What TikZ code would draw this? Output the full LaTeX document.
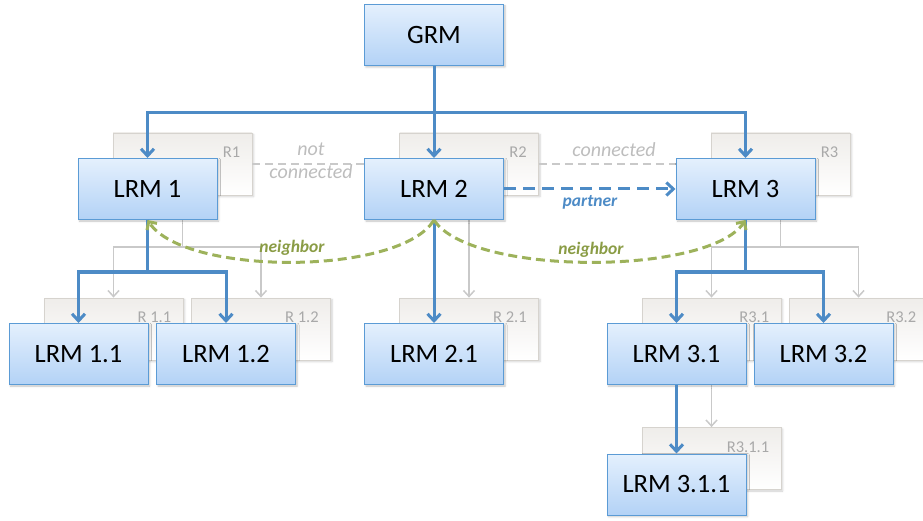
\documentclass[tikz,border=0pt]{standalone}
\usepackage{fontspec}
\setmainfont{Carlito}
\usetikzlibrary{arrows.meta,shadows.blur,calc}

\definecolor{boxtop}{HTML}{E4F0FD}
\definecolor{boxbot}{HTML}{B3D2F6}
\definecolor{boxedge}{HTML}{5B9BD5}
\definecolor{lineblue}{HTML}{4D8BC6}
\definecolor{rtop}{HTML}{EFEDEA}
\definecolor{redge}{HTML}{D6D3CE}
\definecolor{rtext}{HTML}{A9A9A9}
\definecolor{gline}{HTML}{C9C9C9}
\definecolor{gtext}{HTML}{BDBDBD}
\definecolor{nbgreen}{HTML}{9DB25B}
\definecolor{nbtext}{HTML}{8A9C45}

\tikzset{
  lrm/.style={draw=boxedge, line width=1pt, top color=boxtop, bottom color=boxbot,
    minimum width=139pt, minimum height=61pt, inner sep=0pt,
    font=\fontsize{26.5}{30}\selectfont,
    blur shadow={shadow xshift=1.5pt, shadow yshift=-1.5pt, shadow opacity=25, shadow blur radius=2pt}},
  rbox/.style={draw=redge, line width=0.8pt, top color=rtop, bottom color=white,
    minimum width=139pt, minimum height=62pt, inner sep=0pt,
    blur shadow={shadow xshift=1.5pt, shadow yshift=-1.5pt, shadow opacity=20, shadow blur radius=2pt}},
  rlabel/.style={text=rtext, font=\fontsize{16.5}{18}\selectfont, anchor=north east, inner sep=0pt},
  bline/.style={draw=lineblue, line width=3pt},
  barrow/.style={-{Straight Barb[length=7pt,width=13pt]}},
  gconn/.style={draw=gline, line width=1.5pt, -{Straight Barb[length=6pt,width=11pt]}},
  gdash/.style={draw=gline, line width=1.6pt, dash pattern=on 8pt off 5pt},
  nbline/.style={draw=nbgreen, line width=3pt, dash pattern=on 9pt off 5pt,
    -{Straight Barb[length=6pt,width=12pt]}},
  gnote/.style={text=gtext, font=\fontsize{20}{22}\selectfont\itshape, inner sep=0pt},
  nbnote/.style={text=nbtext, font=\fontsize{17.5}{20}\selectfont\bfseries\itshape, inner sep=0pt},
}

\begin{document}
\begin{tikzpicture}[x=1pt,y=-1pt]
\useasboundingbox (0,0) rectangle (923,521);

% ---------- resource boxes (background layer) ----------
\node[rbox] (R1)   at (182.5,164) {};
\node[rbox] (R2)   at (469,164)   {};
\node[rbox] (R3)   at (780.5,164) {};
\node[rbox] (R11)  at (113.5,329) {};
\node[rbox] (R12)  at (261,329)   {};
\node[rbox] (R21)  at (469,329)   {};
\node[rbox] (R31)  at (711.5,329) {};
\node[rbox] (R32)  at (858.5,329) {};
\node[rbox] (R311) at (711.5,458.5) {};

\node[rlabel] (R1t)   at ($(R1.north east)+(-12,14)$)   {R1};
\node[rlabel] (R2t)   at ($(R2.north east)+(-12,14)$)   {R2};
\node[rlabel] (R3t)   at ($(R3.north east)+(-12,14)$)   {R3};
\node[rlabel] (R11t)  at ($(R11.north east)+(-12,14)$)  {R 1.1};
\node[rlabel] (R12t)  at ($(R12.north east)+(-12,14)$)  {R 1.2};
\node[rlabel] (R21t)  at ($(R21.north east)+(-12,14)$)  {R 2.1};
\node[rlabel] (R31t)  at ($(R31.north east)+(-12,14)$)  {R3.1};
\node[rlabel] (R32t)  at ($(R32.north east)+(-12,14)$)  {R3.2};
\node[rlabel] (R311t) at ($(R311.north east)+(-12,14)$) {R3.1.1};

% ---------- resource tree (grey) ----------
\coordinate (gb1) at (182.5,247);
\coordinate (gb3) at (780.5,247);
\draw[gconn] (R1.south) -- (gb1) -| (R11.north);
\draw[gconn] (R1.south) -- (gb1) -| (R12.north);
\draw[gconn] (R2.south) -- (R21.north);
\draw[gconn] (R3.south) -- (gb3) -| (R31.north);
\draw[gconn] (R3.south) -- (gb3) -| (R32.north);
\draw[gconn] (R31.south) -- (R311.north);

% ---------- links between resources ----------
\draw[gdash] (R1.east) -- (R1.east -| 364,0);
\draw[gdash] (R2.east) -- (R2.east -| 676,0);
\node[gnote] (nc1) at (311,149) {not};
\node[gnote] (nc2) at (311,172) {connected};
\node[gnote] (cn)  at (614,150) {connected};

% ---------- resource managers ----------
\node[lrm] (GRM)  at (434,35)    {GRM};
\node[lrm] (L1)   at (147.5,189) {LRM 1};
\node[lrm] (L2)   at (434,189)   {LRM 2};
\node[lrm] (L3)   at (745.5,189) {LRM 3};
\node[lrm] (L11)  at (78.5,354)  {LRM 1.1};
\node[lrm] (L12)  at (226,354)   {LRM 1.2};
\node[lrm] (L21)  at (434,354)   {LRM 2.1};
\node[lrm] (L31)  at (676.5,354) {LRM 3.1};
\node[lrm] (L32)  at (823.5,354) {LRM 3.2};
\node[lrm] (L311) at (676.5,484.5) {LRM 3.1.1};

% ---------- manager hierarchy (blue) ----------
\coordinate (bb0) at (434,113);
\coordinate (bb1) at (147.5,272);
\coordinate (bb3) at (745.5,272);
\draw[bline,barrow] (GRM.south) -- (bb0) -| (L1.north);
\draw[bline,barrow] (GRM.south) -- (bb0) -| (L3.north);
\draw[bline,barrow] (GRM.south) -- (L2.north);
\draw[bline,barrow] (L1.south) -- (bb1) -| (L11.north);
\draw[bline,barrow] (L1.south) -- (bb1) -| (L12.north);
\draw[bline,barrow] (L2.south) -- (L21.north);
\draw[bline,barrow] (L3.south) -- (bb3) -| (L31.north);
\draw[bline,barrow] (L3.south) -- (bb3) -| (L32.north);
\draw[bline,barrow] (L31.south) -- (L311.north);

% partner link
\draw[bline,barrow,dash pattern=on 12pt off 7pt] (L2.east) -- (L3.west);
\node[nbnote,text=lineblue] (pt) at (590,202) {partner};

% neighbour links (green)
\draw[nbline] (L2.south) .. controls (400,276) and (185,276) .. (L1.south);
\draw[nbline] (L2.south) .. controls (470,276) and (708,276) .. (L3.south);
\node[nbnote] (nb1) at (292,248) {neighbor};
\node[nbnote] (nb2) at (591,250) {neighbor};
\end{tikzpicture}
\end{document}
